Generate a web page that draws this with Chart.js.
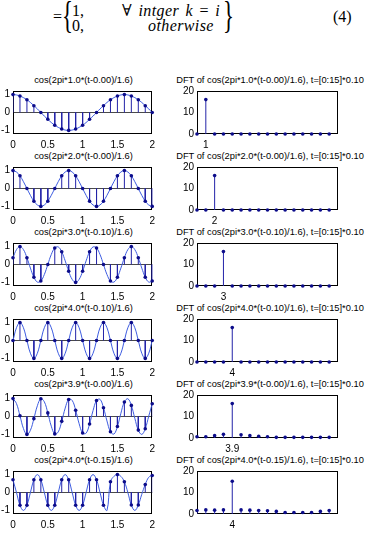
<!DOCTYPE html>
<html lang="en">
<head>
<meta charset="UTF-8">
<title>Cosine samples and their DFT</title>
<script src="https://cdn.jsdelivr.net/npm/chart.js"></script>
<style>
    body {
        margin: 0;
        width: 366px;
        height: 537px;
        position: relative;
        overflow: hidden;
        background: #fff;
        font-family: "Liberation Sans", Arial, sans-serif;
    }
    .eq {
        position: absolute;
        font-family: "Liberation Serif", "DejaVu Serif", serif;
        font-size: 16px;
        line-height: 1;
        color: #000;
        white-space: nowrap;
    }
    .it { font-style: italic; }
    .wide { word-spacing: 2px; letter-spacing: 0.4px; }
    .brace {
        font-size: 38px;
        transform: scaleX(0.6);
        transform-origin: left top;
    }
    .ttl {
        position: absolute;
        font-size: 9.3px;
        line-height: 10px;
        white-space: nowrap;
        transform: translateX(-50%);
        color: #000;
    }
    canvas { position: absolute; }
</style>
</head>
<body>
    <div class="eq" style="left:53px; top:9px;">=</div>
    <div class="eq brace" style="left:62px; top:-4px;">{</div>
    <div class="eq" style="left:72px; top:3px;">1,</div>
    <div class="eq" style="left:72px; top:18px;">0,</div>
    <div class="eq wide" style="left:122px; top:3px;">&#8704; <span class="it">intger k</span> = <span class="it">i</span></div>
    <div class="eq it" style="left:148px; top:18px; letter-spacing:0.4px;">otherwise</div>
    <div class="eq brace" style="left:223px; top:-4px;">}</div>
    <div class="eq" style="left:333px; top:9px;">(4)</div>

<script>
// signal names shown in the titles
const signalNames = [
    'cos(2pi*1.0*(t-0.00)/1.6)',
    'cos(2pi*2.0*(t-0.00)/1.6)',
    'cos(2pi*3.0*(t-0.10)/1.6)',
    'cos(2pi*4.0*(t-0.10)/1.6)',
    'cos(2pi*3.9*(t-0.00)/1.6)',
    'cos(2pi*4.0*(t-0.15)/1.6)'
];
const dftSuffix = ', t=[0:15]*0.10';

// time axis of the smooth curves and of the samples
const curveTimes = [0,0.05,0.1,0.15,0.2,0.25,0.3,0.35,0.4,0.45,0.5,0.55,0.6,0.65,0.7,0.75,0.8,0.85,0.9,0.95,
    1,1.05,1.1,1.15,1.2,1.25,1.3,1.35,1.4,1.45,1.5,1.55,1.6,1.65,1.7,1.75,1.8,1.85,1.9,1.95,2];
const sampleTimes = [0,0.1,0.2,0.3,0.4,0.5,0.6,0.7,0.8,0.9,1,1.1,1.2,1.3,1.4,1.5,1.6,1.7,1.8,1.9,2];

const curve1 = [1,0.98,0.92,0.83,0.71,0.56,0.38,0.2,0,-0.2,-0.38,-0.56,-0.71,-0.83,-0.92,-0.98,-1,-0.98,-0.92,-0.83,
    -0.71,-0.56,-0.38,-0.2,0,0.2,0.38,0.56,0.71,0.83,0.92,0.98,1,0.98,0.92,0.83,0.71,0.56,0.38,0.2,0];
const curve2 = [1,0.92,0.71,0.38,0,-0.38,-0.71,-0.92,-1,-0.92,-0.71,-0.38,0,0.38,0.71,0.92,1,0.92,0.71,0.38,
    0,-0.38,-0.71,-0.92,-1,-0.92,-0.71,-0.38,0,0.38,0.71,0.92,1,0.92,0.71,0.38,0,-0.38,-0.71,-0.92,-1];
const curve3 = [0.38,0.83,1,0.83,0.38,-0.2,-0.71,-0.98,-0.92,-0.56,0,0.56,0.92,0.98,0.71,0.2,-0.38,-0.83,-1,-0.83,
    -0.38,0.2,0.71,0.98,0.92,0.56,0,-0.56,-0.92,-0.98,-0.71,-0.2,0.38,0.83,1,0.83,0.38,-0.2,-0.71,-0.98,-0.92];
const curve4 = [0,0.71,1,0.71,0,-0.71,-1,-0.71,0,0.71,1,0.71,0,-0.71,-1,-0.71,0,0.71,1,0.71,
    0,-0.71,-1,-0.71,0,0.71,1,0.71,0,-0.71,-1,-0.71,0,0.71,1,0.71,0,-0.71,-1,-0.71,0];
const curve5 = [1,0.72,0.04,-0.67,-1,-0.77,-0.12,0.6,0.99,0.82,0.2,-0.54,-0.97,-0.86,-0.27,0.47,0.95,0.9,0.35,-0.4,
    -0.92,-0.93,-0.42,0.33,0.89,0.96,0.49,-0.25,-0.85,-0.98,-0.56,0.18,0.81,0.99,0.62,-0.1,-0.76,-1,-0.68,0.02,0.71];
const curve6 = [0.71,0,-0.71,-1,-0.71,0,0.71,1,0.71,0,-0.71,-1,-0.71,0,0.71,1,0.71,0,-0.71,-1,
    -0.71,0,0.71,1,0.71,0,-0.71,-1,0.6,0.9,1,0.9,0.6,0,-0.7,-1,-0.7,-0.1,0.45,0.85,0.95];

const samples1 = [1,0.92,0.71,0.38,0,-0.38,-0.71,-0.92,-1,-0.92,-0.71,-0.38,0,0.38,0.71,0.92,1,0.92,0.71,0.38,0];
const samples2 = [1,0.71,0,-0.71,-1,-0.71,0,0.71,1,0.71,0,-0.71,-1,-0.71,0,0.71,1,0.71,0,-0.71,-1];
const samples3 = [0.38,1,0.38,-0.71,-0.92,0,0.92,0.71,-0.38,-1,-0.38,0.71,0.92,0,-0.92,-0.71,0.38,1,0.38,-0.71,-0.92];
const samples4 = [0,1,0,-1,0,1,0,-1,0,1,0,-1,0,1,0,-1,0,1,0,-1,0];
const samples5 = [1,0.04,-1,-0.12,0.99,0.2,-0.97,-0.27,0.95,0.35,-0.92,-0.42,0.89,0.49,-0.85,-0.56,0.81,0.62,-0.76,-0.68,0.71];
const samples6 = [0.71,-0.71,-0.71,0.71,0.71,-0.71,-0.71,0.71,0.71,-0.71,-0.71,0.71,0.71,-0.71,0.6,1,0.6,-0.7,-0.7,0.45,0.95];

// DFT magnitudes, bins 0..15
const bins = [0,1,2,3,4,5,6,7,8,9,10,11,12,13,14,15];
const dft1 = [0,16,0,0,0,0,0,0,0,0,0,0,0,0,0,0];
const dft2 = [0,0,16,0,0,0,0,0,0,0,0,0,0,0,0,0];
const dft3 = [0,0,0,16,0,0,0,0,0,0,0,0,0,0,0,0];
const dft4 = [0,0,0,0,16,0,0,0,0,0,0,0,0,0,0,0];
const dft5 = [0.6,0.6,1.1,1.7,16,1.5,1.1,0.8,0.6,0.3,0.3,0.3,0.3,0.3,0.3,0.3];
const dft6 = [1.6,1.9,1.8,1.9,15.2,1.9,1.8,1.6,1.5,1.2,0.7,0.7,0.7,0.7,1.2,1.6];

// tick values / labels
const timeTicks = [0, 0.5, 1, 1.5, 2];
const timeTickText = ['0', '0.5', '1', '1.5', '2'];
const ampTicks = [-1, 0, 1];
const magTicks = [0, 10, 20];
const dftTickPos = [1, 2, 3, 4, 4, 4];
const dftTickText = ['1', '2', '3', '4', '3.9', '4'];

const curves = [curve1, curve2, curve3, curve4, curve5, curve6];
const samples = [samples1, samples2, samples3, samples4, samples5, samples6];
const dfts = [dft1, dft2, dft3, dft4, dft5, dft6];

// layout
const rowTops = [90, 166, 242, 318, 394, 470];
const boxH = 44;
const padTop = 8, xAxisH = 16;

const curveColor = '#3d5ce0';
const stemColor = '#2323a8';
const dotColor = '#0c0c8a';
const tickFont = { family: 'Liberation Sans', size: 10 };

const boxPlugin = {
    id: 'box',
    beforeDatasetsDraw(chart) {
        const a = chart.chartArea, c = chart.ctx;
        c.save();
        c.strokeStyle = '#000';
        c.lineWidth = 1;
        c.strokeRect(Math.round(a.left) + 0.5, Math.round(a.top) + 0.5,
            Math.round(a.right - a.left) - 1, Math.round(a.bottom - a.top) - 1);
        c.restore();
    }
};

function points(xs, ys) {
    return xs.map((x, i) => ({ x: x, y: ys[i] }));
}

function stems(xs, ys) {
    const out = [];
    xs.forEach((x, i) => {
        out.push({ x: x, y: 0 }, { x: x, y: ys[i] }, { x: x, y: null });
    });
    return out;
}

function addTitle(text, cx, cy) {
    const d = document.createElement('div');
    d.className = 'ttl';
    d.textContent = text;
    d.style.left = cx + 'px';
    d.style.top = (cy - 5) + 'px';
    document.body.appendChild(d);
}

function addCanvas(left, top, w, h) {
    const cv = document.createElement('canvas');
    cv.width = w;
    cv.height = h;
    cv.style.left = left + 'px';
    cv.style.top = top + 'px';
    document.body.appendChild(cv);
    return cv;
}

function makeChart(cv, datasets, opt) {
    return new Chart(cv, {
        type: 'line',
        data: { datasets: datasets },
        options: {
            responsive: false,
            animation: false,
            devicePixelRatio: 1,
            events: [],
            layout: { padding: { top: padTop, right: opt.padRight, left: 0, bottom: 0 } },
            plugins: { legend: { display: false }, tooltip: { enabled: false } },
            scales: {
                x: {
                    type: 'linear',
                    min: opt.xMin,
                    max: opt.xMax,
                    afterBuildTicks: s => { s.ticks = opt.xTicks.map(v => ({ value: v })); },
                    afterFit: s => { s.height = xAxisH; },
                    grid: { display: false, drawTicks: false },
                    border: { display: false },
                    ticks: {
                        padding: 5, font: tickFont, color: '#000',
                        maxRotation: 0, autoSkip: false,
                        callback: (v, i) => opt.xText[i]
                    }
                },
                y: {
                    min: opt.yMin,
                    max: opt.yMax,
                    afterBuildTicks: s => { s.ticks = opt.yTicks.map(v => ({ value: v })); },
                    afterFit: s => { s.width = opt.yWidth; },
                    grid: {
                        drawTicks: false,
                        color: ctx => (opt.zeroLine && ctx.tick && ctx.tick.value === 0) ? '#4a4a4a' : 'rgba(0,0,0,0)'
                    },
                    border: { display: false },
                    ticks: { padding: 3, font: tickFont, color: '#000', autoSkip: false, callback: v => String(v) }
                }
            }
        },
        plugins: [boxPlugin]
    });
}

rowTops.forEach((top, r) => {
    // left: sampled cosine
    addTitle(signalNames[r], 83.5, top - 10);
    const lc = addCanvas(0, top - padTop, 160, boxH + padTop + xAxisH);
    makeChart(lc, [
        { data: points(sampleTimes, samples[r]), showLine: false, pointRadius: 1.8,
          pointBackgroundColor: dotColor, pointBorderWidth: 0, clip: false },
        { data: stems(sampleTimes, samples[r]), borderColor: stemColor, borderWidth: 1,
          pointRadius: 0, spanGaps: false },
        { data: points(curveTimes, curves[r]), borderColor: curveColor, borderWidth: 1,
          pointRadius: 0, tension: 0.4 }
    ], {
        padRight: 6, yWidth: 13, xMin: 0, xMax: 2, yMin: -1.2, yMax: 1.2,
        xTicks: timeTicks, xText: timeTickText, yTicks: ampTicks, zeroLine: true
    });

    // right: DFT magnitude
    addTitle('DFT of ' + signalNames[r] + dftSuffix, 270, top - 10);
    const rc = addCanvas(183, top - padTop, 183, boxH + padTop + xAxisH);
    makeChart(rc, [
        { data: points(bins, dfts[r]), showLine: false, pointRadius: 1.8,
          pointBackgroundColor: dotColor, pointBorderWidth: 0, clip: false },
        { data: stems(bins, dfts[r]), borderColor: stemColor, borderWidth: 1,
          pointRadius: 0, spanGaps: false }
    ], {
        padRight: 28, yWidth: 14, xMin: 0, xMax: 16, yMin: 0, yMax: 20,
        xTicks: [dftTickPos[r]], xText: [dftTickText[r]], yTicks: magTicks, zeroLine: false
    });
});
</script>
</body>
</html>
